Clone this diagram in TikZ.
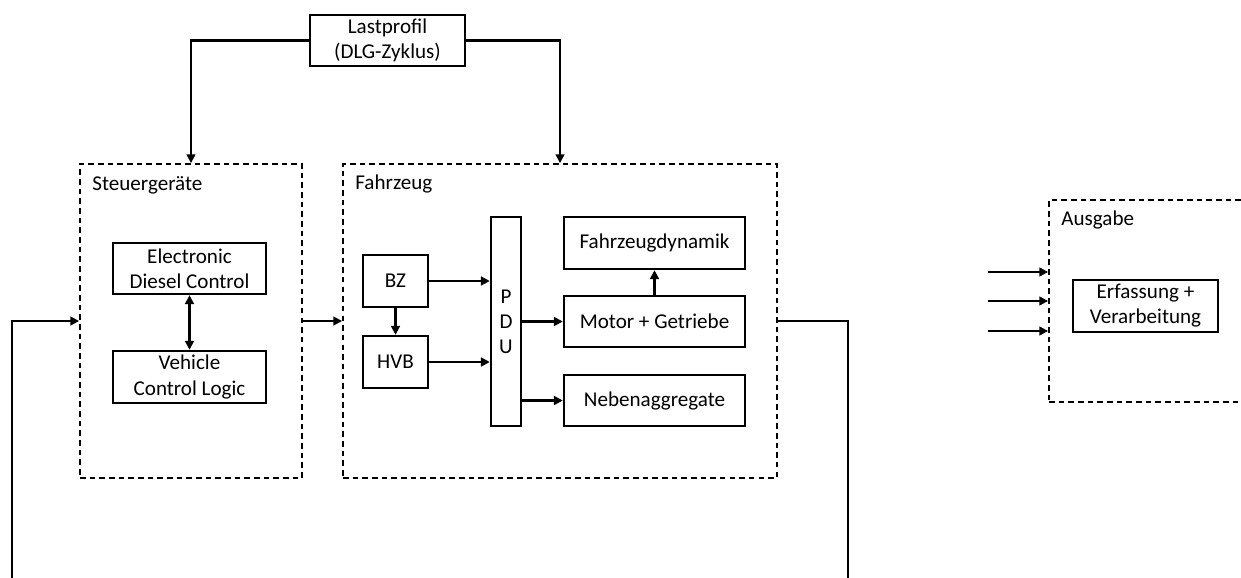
\documentclass[tikz,border=0pt]{standalone}
\usepackage{fontspec}
\setmainfont{Carlito}
\usetikzlibrary{arrows.meta,fit}
\begin{document}
\begin{tikzpicture}[x=0.02cm,y=-0.02cm,
  font=\fontsize{12}{14.3}\selectfont,
  box/.style={draw, line width=1.4pt, inner sep=0pt},
  txt/.style={align=center, inner sep=0pt},
  container/.style={draw, line width=1.05pt, dash pattern=on 3.2pt off 2.3pt, inner sep=0pt},
  tag/.style={anchor=west, inner sep=0pt},
  conn/.style={line width=1.15pt},
  arr/.style={conn, -{Triangle[length=5pt,width=5pt]}},
  darr/.style={conn, {Triangle[length=5pt,width=5pt]}-{Triangle[length=5pt,width=5pt]}}]
\useasboundingbox (0,0) rectangle (1241,578);
\clip (0,0) rectangle (1241,578);

% load profile on top
\node[box, fit={(310,15) (465,66)}] (last) {};
\node[txt] (lasttxt) at (last.center) {Lastprofil\\(DLG-Zyklus)};

% control units
\node[container, fit={(80,164) (302,478)}] (steuer) {};
\node[tag] (steuerlbl) at (92,185) {Steuergeräte};
\node[box, fit={(113,243) (266,294)}] (edc) {};
\node[txt] (edctxt) at (edc.center) {Electronic\\Diesel Control};
\node[box, fit={(113,351) (266,403)}] (vcl) {};
\node[txt] (vcltxt) at (vcl.center) {Vehicle\\Control Logic};

% vehicle
\node[container, fit={(343,164) (777,478)}] (fahr) {};
\node[tag] (fahrlbl) at (355,184) {Fahrzeug};
\node[box, fit={(363,255) (428,307)}] (bz) {};
\node[txt] (bztxt) at (bz.center) {BZ};
\node[box, fit={(363,336) (428,388)}] (hvb) {};
\node[txt] (hvbtxt) at (hvb.center) {HVB};
\node[box, fit={(491,217) (521,426)}] (pdu) {};
\node[txt, font=\fontsize{12}{14.2}\selectfont] (pdutxt) at (506,322) {P\\D\\U};
\node[box, fit={(564,217) (745,269)}] (fd) {};
\node[txt] (fdtxt) at (fd.center) {Fahrzeugdynamik};
\node[box, fit={(564,296) (745,347)}] (motor) {};
\node[txt] (motortxt) at (motor.center) {Motor + Getriebe};
\node[box, fit={(564,375) (745,426)}] (neben) {};
\node[txt] (nebentxt) at (neben.center) {Nebenaggregate};

% output
\node[container, fit={(1049,200) (1300,402)}] (ausg) {};
\node[tag] (ausglbl) at (1061,220) {Ausgabe};
\node[box, fit={(1073,280) (1218,332)}] (erf) {};
\node[txt] (erftxt) at (erf.center) {Erfassung +\\Verarbeitung};

% free ends
\coordinate (fbR) at (848,620);
\coordinate (fbL) at (12,620);
\coordinate (in1) at (988,272);
\coordinate (in2) at (988,301);
\coordinate (in3) at (988,331);

% connectors
\draw[arr] (last.west) -| (steuer.north);
\draw[arr] (last.east) -| (fahr.north);
\draw[darr] (edc.south) -- (vcl.north);
\draw[arr] (steuer.east) -- (fahr.west);
\draw[arr] (bz.east) -- (bz.east -| pdu.west);
\draw[arr] (hvb.east) -- (hvb.east -| pdu.west);
\draw[arr] (bz.south) -- (hvb.north);
\draw[arr] (motor.west -| pdu.east) -- (motor.west);
\draw[arr] (neben.west -| pdu.east) -- (neben.west);
\draw[arr] (motor.north) -- (fd.south);
\draw[conn] (fahr.east) -| (fbR);
\draw[arr] (fbL) |- (steuer.west);
\draw[arr] (in1) -- (in1 -| ausg.west);
\draw[arr] (in2) -- (in2 -| ausg.west);
\draw[arr] (in3) -- (in3 -| ausg.west);
\end{tikzpicture}
\end{document}
